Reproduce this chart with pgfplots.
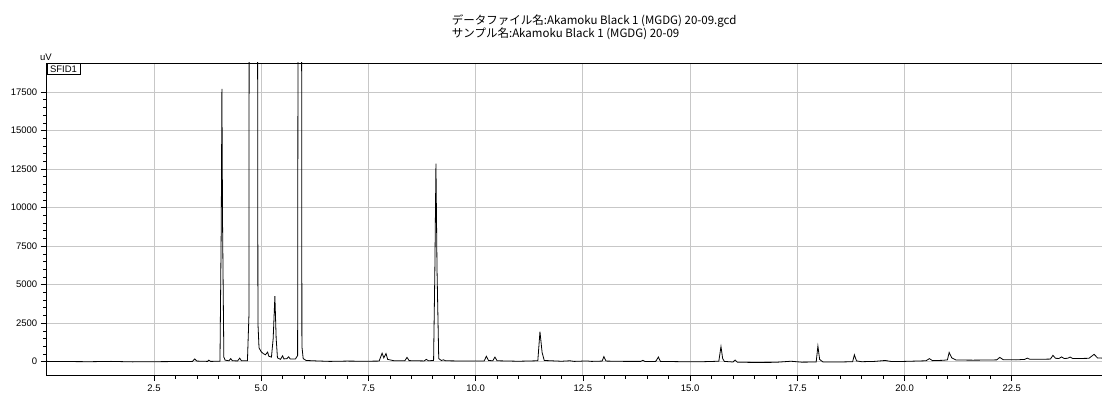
\documentclass[border=0pt]{standalone}
\usepackage{fontspec}
\setmainfont{Liberation Sans}
\newfontfamily\jpfont{Noto Sans CJK JP}
\usepackage{pgfplots}
\pgfplotsset{compat=1.18}
\begin{document}
\begin{tikzpicture}
\useasboundingbox (0,0) rectangle (1102bp,396bp);
\begin{axis}[
  at={(46.7bp,21bp)}, anchor=south west,
  scale only axis, width=1057.3bp, height=312bp,
  xmin=0, xmax=24.65, ymin=-863, ymax=19383,
  xtick={2.5,5,7.5,10,12.5,15,17.5,20,22.5},
  ytick={0,2500,5000,7500,10000,12500,15000,17500},
  scaled y ticks=false, scaled x ticks=false,
  minor tick num=4,
  tick align=outside, tick pos=left,
  major tick length=6bp, minor tick length=3.5bp,
  tick style={black, line width=0.6bp},
  xticklabel style={/pgf/number format/fixed, /pgf/number format/precision=1, /pgf/number format/fixed zerofill},
  yticklabel style={/pgf/number format/fixed, /pgf/number format/1000 sep={}},
  /pgf/number format/assume math mode=true,
  ticklabel style={font=\fontsize{9.5bp}{11bp}\selectfont},
  xmajorgrids, ymajorgrids,
  major grid style={color=black!22, line width=0.8bp},
  axis line style={black, line width=0.9bp},
]
\addplot[black, line width=0.8bp] coordinates {
(0.0,20) (0.5,10) (1.0,0) (1.5,20) (2.0,-10) (2.5,0) (3.0,10) (3.4,20)
(3.45,180) (3.5,40) (3.75,20) (3.78,100) (3.82,20) (4.04,30)
(4.07,9000) (4.085,17700) (4.10,9000) (4.13,300) (4.16,100) (4.25,60)
(4.29,200) (4.33,60) (4.45,50) (4.50,230) (4.54,60) (4.68,60)
(4.715,3000) (4.73,60000) (4.90,60000) (4.925,2500) (4.95,900)
(5.0,650) (5.05,520) (5.10,450) (5.15,620) (5.18,350) (5.24,300)
(5.28,1500) (5.32,4250) (5.35,1500) (5.38,250) (5.45,150) (5.50,380)
(5.53,180) (5.60,200) (5.64,320) (5.68,170) (5.80,180) (5.85,400)
(5.875,60000) (5.93,60000) (5.95,1000) (5.98,200) (6.05,80) (6.3,50)
(6.6,20) (7.0,40) (7.4,30) (7.75,40) (7.82,550) (7.86,250) (7.91,530)
(7.95,150) (8.1,60) (8.35,60) (8.40,280) (8.45,70) (8.8,50) (8.85,150)
(8.9,60) (9.02,80) (9.05,6000) (9.075,12850) (9.10,6000) (9.14,200)
(9.2,80) (9.25,120) (9.3,60) (9.8,40) (10.2,50) (10.25,350) (10.3,80)
(10.4,60) (10.45,300) (10.5,60) (11.0,30) (11.45,60) (11.5,1950)
(11.55,600) (11.6,80) (12.0,30) (12.2,60) (12.3,20) (12.6,50) (12.7,20)
(12.95,40) (12.99,330) (13.04,40) (13.5,20) (13.85,20) (13.9,90)
(13.95,10) (14.2,20) (14.26,300) (14.31,20) (14.8,0) (15.3,0)
(15.67,30) (15.72,980) (15.76,200) (15.8,20) (16.0,-20) (16.05,110)
(16.1,-30) (16.5,-50) (17.0,-40) (17.35,30) (17.6,-30) (17.94,-20)
(17.98,1020) (18.02,150) (18.1,-20) (18.5,-20) (18.79,0) (18.83,450)
(18.88,50) (19.0,0) (19.3,20) (19.55,80) (19.7,10) (20.0,20) (20.5,60)
(20.58,200) (20.65,70) (20.9,90) (21.0,120) (21.04,600) (21.1,250)
(21.2,110) (21.6,100) (22.0,110) (22.15,120) (22.22,280) (22.3,130)
(22.6,120) (22.8,150) (22.86,230) (22.92,160) (23.2,160) (23.4,170)
(23.46,410) (23.52,220) (23.6,210) (23.66,310) (23.72,210) (23.8,220)
(23.86,300) (23.92,210) (24.1,210) (24.3,220) (24.42,480) (24.5,240)
(24.65,230)
};
\end{axis}
\node[anchor=base west, inner sep=0pt, font=\jpfont\fontsize{11.5bp}{13bp}\selectfont] at (451.7bp,371bp) {データファイル名:Akamoku Black 1 (MGDG) 20-09.gcd};
\node[anchor=base west, inner sep=0pt, font=\jpfont\fontsize{11.5bp}{13bp}\selectfont] at (451.7bp,358bp) {サンプル名:Akamoku Black 1 (MGDG) 20-09};
\node[anchor=base west, inner sep=0pt, font=\fontsize{9.5bp}{11bp}\selectfont] at (40bp,335.5bp) {uV};
\node[draw, line width=0.6bp, anchor=north west, inner xsep=3bp, inner ysep=2bp, text height=7bp, text depth=0pt, fill=white, font=\fontsize{9.5bp}{11bp}\selectfont] at (46.7bp,333bp) {SFID1};
\end{tikzpicture}
\end{document}
